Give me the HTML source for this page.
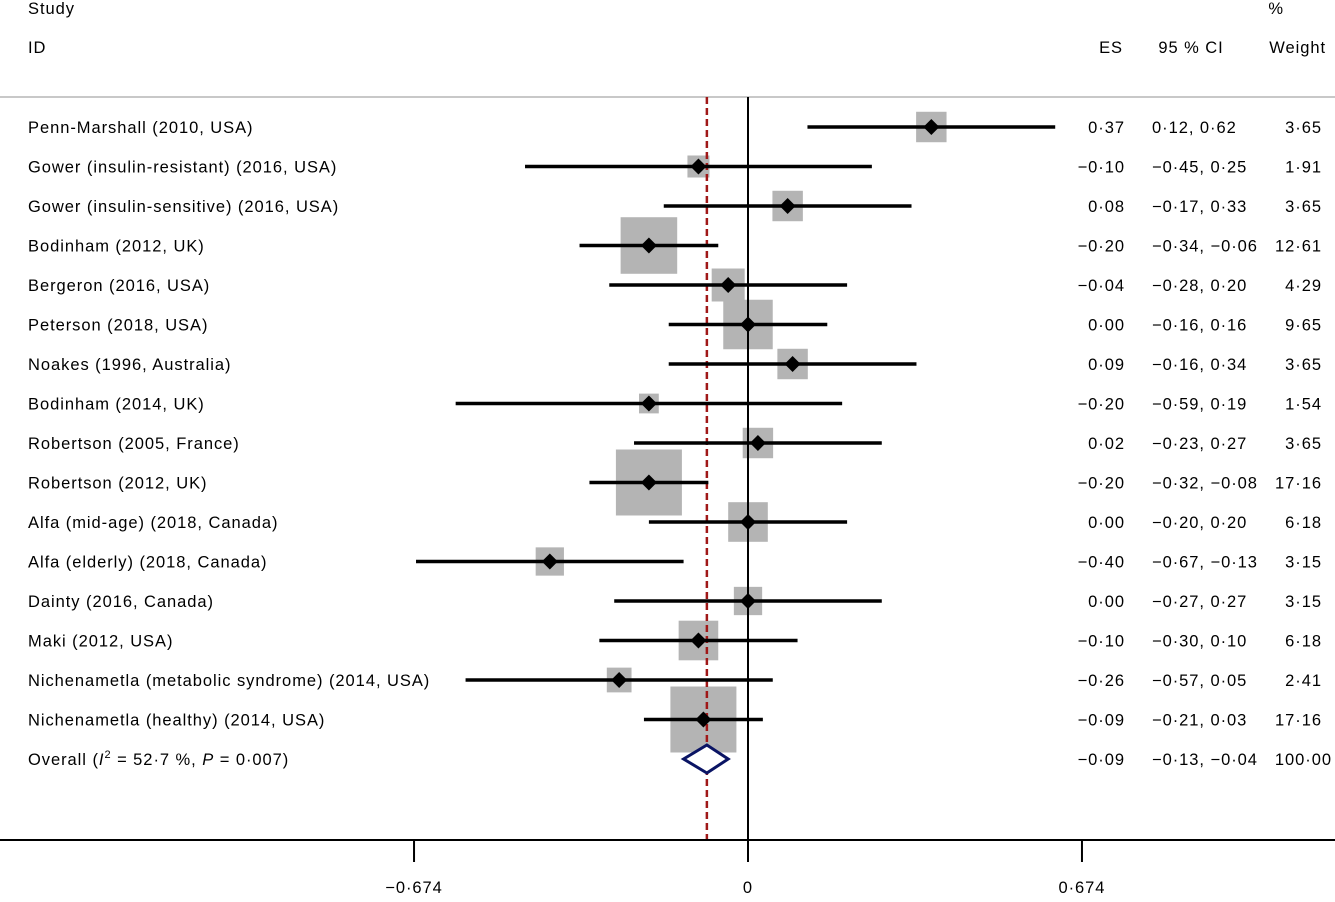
<!DOCTYPE html>
<html><head><meta charset="utf-8"><style>
body{margin:0;background:#fff;}
svg text{font-family:"Liberation Sans",Arial,sans-serif;font-size:16.5px;letter-spacing:0.95px;fill:#000;}
</style></head><body>
<svg id="chart" width="1335" height="897" xmlns="http://www.w3.org/2000/svg"></svg>
<script>
const studies=["Penn-Marshall (2010, USA)","Gower (insulin-resistant) (2016, USA)","Gower (insulin-sensitive) (2016, USA)","Bodinham (2012, UK)","Bergeron (2016,  USA)","Peterson (2018, USA)","Noakes (1996, Australia)","Bodinham (2014, UK)","Robertson (2005, France)","Robertson (2012, UK)","Alfa (mid-age) (2018, Canada)","Alfa (elderly) (2018, Canada)","Dainty (2016, Canada)","Maki (2012, USA)","Nichenametla (metabolic syndrome) (2014, USA)","Nichenametla (healthy) (2014, USA)"];
const es=[0.37,-0.10,0.08,-0.20,-0.04,0.00,0.09,-0.20,0.02,-0.20,0.00,-0.40,0.00,-0.10,-0.26,-0.09];
const lo=[0.12,-0.45,-0.17,-0.34,-0.28,-0.16,-0.16,-0.59,-0.23,-0.32,-0.20,-0.67,-0.27,-0.30,-0.57,-0.21];
const hi=[0.62,0.25,0.33,-0.06,0.20,0.16,0.34,0.19,0.27,-0.08,0.20,-0.13,0.27,0.10,0.05,0.03];
const weights=[3.65,1.91,3.65,12.61,4.29,9.65,3.65,1.54,3.65,17.16,6.18,3.15,3.15,6.18,2.41,17.16];
const overall={es:-0.083,lo:-0.13,hi:-0.04};
const ticks=[-0.674,0,0.674];
const tickLabels=["\u22120\u00b7674","0","0\u00b7674"];

const NS="http://www.w3.org/2000/svg";
const svg=document.getElementById('chart');
const xS=v=>748+v*495.5;
const yS=i=>127+i*39.5;
const fmt=v=>(v<0?"\u2212":"")+Math.abs(v).toFixed(2).replace('.','\u00b7');
function el(tag,attrs,txt){const e=document.createElementNS(NS,tag);for(const k in attrs)e.setAttribute(k,attrs[k]);if(txt!==undefined)e.textContent=txt;svg.appendChild(e);return e;}
function txt(x,y,s,anchor,name){const t=el('text',{x:x,y:y,'text-anchor':anchor||'start'},s);

return t;}

txt(28,14,"Study","start","header-study");
txt(28,53,"ID","start","header-id");
txt(1123,53,"ES","end","header-es");
txt(1191,53,"95 % CI","middle","header-ci");
txt(1284,14,"%","end","header-percent");
txt(1326,53,"Weight","end","header-weight");
let l=el('line',{x1:0,x2:1335,y1:97,y2:97,stroke:'#c8c8c8','stroke-width':2});



studies.forEach((s,i)=>{
 const side=66*Math.sqrt(weights[i]/17.16);
 const r=el('rect',{x:xS(es[i])-side/2,y:yS(i)-side/2,width:side,height:side,fill:'#b4b4b4'});
 
 
});
l=el('line',{x1:748,x2:748,y1:97,y2:840,stroke:'#000','stroke-width':2});


l=el('line',{x1:xS(overall.es),x2:xS(overall.es),y1:97,y2:840,stroke:'#a01818','stroke-width':2.5,'stroke-dasharray':'7,4'});



studies.forEach((s,i)=>{
 const y=yS(i);
 const c=el('line',{x1:xS(lo[i]),x2:xS(hi[i]),y1:y,y2:y,stroke:'#000','stroke-width':3.5});
 
 
 const x=xS(es[i]);
 const p=el('polygon',{points:`${x},${y-8} ${x+8},${y} ${x},${y+8} ${x-8},${y}`,fill:'#000'});
 
 
 txt(28,y+6,s,'start','study-label');
 txt(1125,y+6,fmt(es[i]),'end','es-value');
 txt(1152,y+6,fmt(lo[i])+", "+fmt(hi[i]),'start','ci-value');
 txt(1322,y+6,weights[i].toFixed(2).replace('.','\u00b7'),'end','weight-value');
});
const oy=yS(16);
const d=el('polygon',{points:`${xS(overall.lo)},${oy} ${xS(overall.es)},${oy-14} ${xS(overall.hi)},${oy} ${xS(overall.es)},${oy+14}`,fill:'#fff',stroke:'#0a1464','stroke-width':3});


const ot=el('text',{x:28,y:oy+6});


ot.innerHTML='Overall  (<tspan font-style="italic">I</tspan><tspan dy="-7" font-size="11">2</tspan><tspan dy="7"> = 52·7 %, </tspan><tspan font-style="italic">P</tspan> = 0·007)';
txt(1125,oy+6,"\u22120\u00b709",'end','overall-es');
txt(1152,oy+6,"\u22120\u00b713, \u22120\u00b704",'start','overall-ci');
txt(1332,oy+6,"100\u00b700",'end','overall-weight');

l=el('line',{x1:0,x2:1335,y1:840,y2:840,stroke:'#000','stroke-width':2});


ticks.forEach((t,i)=>{
 const tk=el('line',{x1:xS(t),x2:xS(t),y1:840,y2:862,stroke:'#000','stroke-width':2});
 
 
 txt(xS(t),893,tickLabels[i],'middle','x-tick-label');
});
</script>
</body></html>
